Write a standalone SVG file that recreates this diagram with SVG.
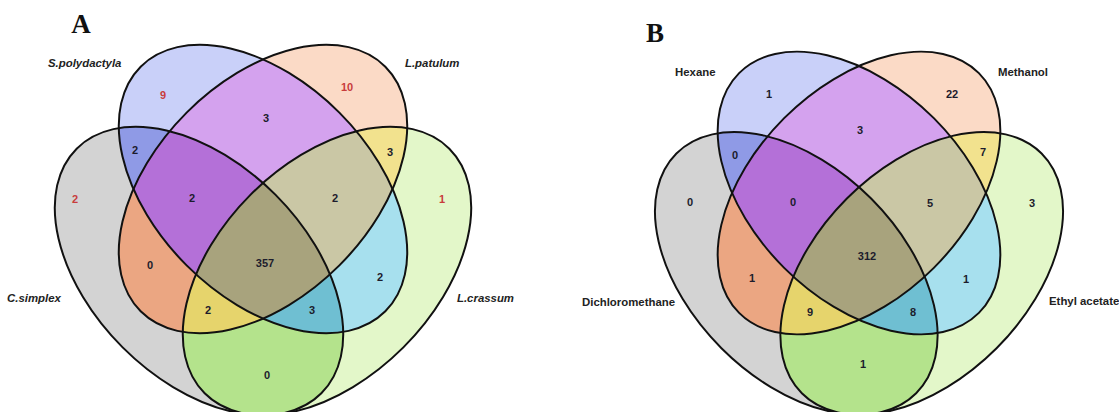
<svg xmlns="http://www.w3.org/2000/svg" xmlns:xlink="http://www.w3.org/1999/xlink" width="1119" height="412" viewBox="0 0 1119 412">
<style>
.lbl{font-family:"Liberation Sans",Arial,sans-serif;font-size:11.4px;font-weight:bold;fill:#222}
.it{font-style:italic}
.num{font-family:"Liberation Sans",Arial,sans-serif;font-size:11px;font-weight:bold;fill:#1c1c2c;text-anchor:middle}
.red{fill:#c83c3c}
.pl{font-family:"Liberation Serif","Times New Roman",serif;font-size:27px;font-weight:bold;fill:#111;text-anchor:middle}
.ol{fill:none;stroke:#111;stroke-width:2}
</style>
<defs>
<ellipse id="eB" cx="0" cy="0" rx="173" ry="108" transform="rotate(45)"/>
<ellipse id="eO" cx="0" cy="0" rx="173" ry="108" transform="rotate(-45)"/>
<ellipse id="eG" cx="0" cy="0" rx="173" ry="108" transform="translate(-64,82) rotate(45)"/>
<ellipse id="eN" cx="0" cy="0" rx="173" ry="108" transform="translate(64,82) rotate(-45)"/>
<clipPath id="cB"><use xlink:href="#eB"/></clipPath>
<clipPath id="cO"><use xlink:href="#eO"/></clipPath>
<clipPath id="cG"><use xlink:href="#eG"/></clipPath>
<clipPath id="cN"><use xlink:href="#eN"/></clipPath>
<g id="venn">
<use xlink:href="#eG" fill="#d3d3d3"/>
<use xlink:href="#eN" fill="#e3f7c9"/>
<use xlink:href="#eB" fill="#c9d0f9"/>
<use xlink:href="#eO" fill="#fbdac6"/>
<g clip-path="url(#cB)"><use xlink:href="#eO" fill="#d4a2ee"/></g>
<g clip-path="url(#cB)"><use xlink:href="#eG" fill="#8f9ae6"/></g>
<g clip-path="url(#cO)"><use xlink:href="#eN" fill="#f2e28e"/></g>
<g clip-path="url(#cO)"><use xlink:href="#eG" fill="#eba682"/></g>
<g clip-path="url(#cB)"><use xlink:href="#eN" fill="#a7e0ee"/></g>
<g clip-path="url(#cG)"><use xlink:href="#eN" fill="#b4e38c"/></g>
<g clip-path="url(#cB)"><g clip-path="url(#cO)"><use xlink:href="#eG" fill="#b470d8"/></g></g>
<g clip-path="url(#cB)"><g clip-path="url(#cO)"><use xlink:href="#eN" fill="#cac7a5"/></g></g>
<g clip-path="url(#cO)"><g clip-path="url(#cG)"><use xlink:href="#eN" fill="#e6d46c"/></g></g>
<g clip-path="url(#cB)"><g clip-path="url(#cG)"><use xlink:href="#eN" fill="#6fbfd2"/></g></g>
<g clip-path="url(#cB)"><g clip-path="url(#cO)"><g clip-path="url(#cG)"><use xlink:href="#eN" fill="#a8a37d"/></g></g></g>
<use xlink:href="#eB" class="ol"/>
<use xlink:href="#eO" class="ol"/>
<use xlink:href="#eG" class="ol"/>
<use xlink:href="#eN" class="ol"/>
</g>
</defs>
<rect width="1119" height="412" fill="#fff"/>

<g id="panelA">
<text class="pl" x="81" y="33">A</text>
<g id="A-shapes" transform="translate(263,189)"><use xlink:href="#venn"/></g>
<g id="A-set-S.polydactyla"><text class="lbl it" x="48" y="67">S.polydactyla</text></g>
<g id="A-set-L.patulum"><text class="lbl it" x="405" y="67">L.patulum</text></g>
<g id="A-set-C.simplex"><text class="lbl it" x="7" y="302">C.simplex</text></g>
<g id="A-set-L.crassum"><text class="lbl it" x="457" y="302">L.crassum</text></g>
<g id="A-counts">
<text class="num red" x="163" y="99">9</text>
<text class="num red" x="347" y="91">10</text>
<text class="num red" x="75" y="203">2</text>
<text class="num red" x="442" y="203">1</text>
<text class="num" x="266" y="122">3</text>
<text class="num" x="135" y="154">2</text>
<text class="num" x="390" y="156">3</text>
<text class="num" x="192" y="202">2</text>
<text class="num" x="335" y="202">2</text>
<text class="num" x="150" y="269">0</text>
<text class="num" x="265" y="267">357</text>
<text class="num" x="380" y="281">2</text>
<text class="num" x="208" y="314">2</text>
<text class="num" x="312" y="314">3</text>
<text class="num" x="267" y="379">0</text>
</g>
</g>

<g id="panelB">
<text class="pl" x="655" y="42">B</text>
<g id="B-shapes" transform="translate(859,193) scale(0.98)"><use xlink:href="#venn"/></g>
<g id="B-set-Hexane"><text class="lbl" x="675" y="76">Hexane</text></g>
<g id="B-set-Methanol"><text class="lbl" x="998" y="76">Methanol</text></g>
<g id="B-set-Dichloromethane"><text class="lbl" x="582" y="306">Dichloromethane</text></g>
<g id="B-set-Ethyl-acetate"><text class="lbl" x="1049" y="305">Ethyl acetate</text></g>
<g id="B-counts">
<text class="num" x="769" y="98">1</text>
<text class="num" x="952" y="98">22</text>
<text class="num" x="860" y="134">3</text>
<text class="num" x="735" y="159">0</text>
<text class="num" x="983" y="156">7</text>
<text class="num" x="690" y="206">0</text>
<text class="num" x="793" y="206">0</text>
<text class="num" x="930" y="207">5</text>
<text class="num" x="1032" y="207">3</text>
<text class="num" x="867" y="260">312</text>
<text class="num" x="752" y="282">1</text>
<text class="num" x="966" y="283">1</text>
<text class="num" x="810" y="316">9</text>
<text class="num" x="913" y="316">8</text>
<text class="num" x="863" y="368">1</text>
</g>
</g>
</svg>
